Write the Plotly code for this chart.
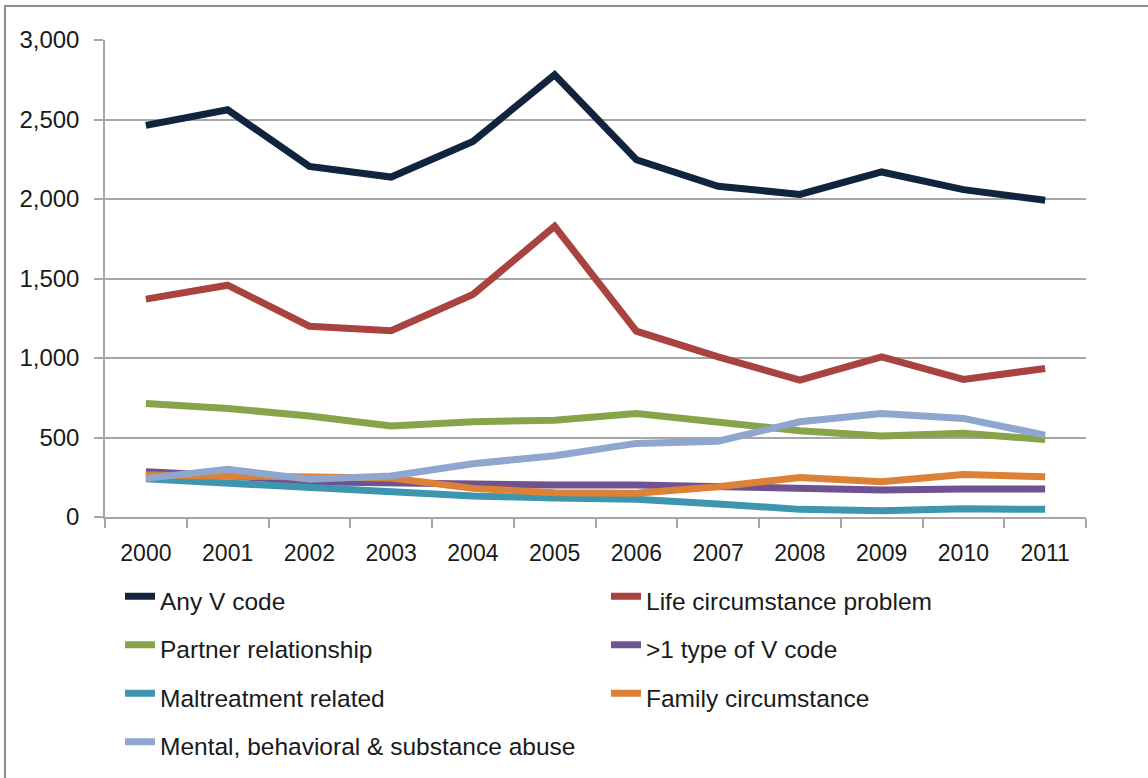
import plotly.graph_objects as go

years = ["2000", "2001", "2002", "2003", "2004", "2005", "2006", "2007", "2008", "2009", "2010", "2011"]

any_v_code = [2463, 2561, 2205, 2138, 2362, 2781, 2247, 2080, 2029, 2170, 2059, 1992]
life_circumstance = [1370, 1458, 1200, 1171, 1399, 1828, 1169, 1007, 861, 1007, 865, 934]
partner_relationship = [714, 683, 635, 572, 599, 609, 651, 592, 542, 509, 526, 488]
more_than_one_type = [285, 260, 222, 212, 201, 201, 201, 190, 187, 170, 176, 176]
maltreatment_related = [240, 212, 180, 153, 132, 120, 112, 82, 48, 40, 52, 48]
family_circumstance = [264, 258, 262, 245, 180, 153, 149, 190, 249, 222, 268, 253]
mental_behavioral = [243, 300, 237, 258, 335, 385, 463, 477, 599, 651, 620, 515]

series_names = [
    "Any V code",
    "Life circumstance problem",
    "Partner relationship",
    ">1 type of V code",
    "Maltreatment related",
    "Family circumstance",
    "Mental, behavioral & substance abuse",
]
series_values = [
    any_v_code,
    life_circumstance,
    partner_relationship,
    more_than_one_type,
    maltreatment_related,
    family_circumstance,
    mental_behavioral,
]
series_colors = ["#10243E", "#A9433F", "#86A44A", "#6F5290", "#3D96AE", "#DC8136", "#8FA6CE"]

FONT = "Liberation Sans, Arial, sans-serif"

fig = go.Figure()
for name, vals, col in zip(series_names, series_values, series_colors):
    fig.add_trace(go.Scatter(
        x=years, y=vals, mode="lines", name=f'<span style="font-size:24.5px">{name}</span>',
        line=dict(color=col, width=7),
    ))

W, H = 1148, 778
ml, mr, mt, mb = 105, 62, 40, 261
pw, ph = W - ml - mr, H - mt - mb

def px_x(p):
    return (p - ml) / pw

def px_y(p):
    return (H - mb - p) / ph

fig.update_layout(
    width=W, height=H,
    margin=dict(l=ml, r=mr, t=mt, b=mb, autoexpand=False),
    paper_bgcolor="white", plot_bgcolor="white",
    font=dict(family=FONT, size=23, color="#1a1a1a"),
    showlegend=True,
    legend=dict(
        orientation="h",
        xref="container", yref="container",
        x=120 / W, y=1 - 567 / H, xanchor="left", yanchor="top",
        entrywidth=441, entrywidthmode="pixels",
        font=dict(family=FONT, size=35, color="#1a1a1a"),
        bgcolor="rgba(0,0,0,0)",
        traceorder="normal",
    ),
    xaxis=dict(
        type="category",
        range=[-0.5, 11.5],
        showgrid=False,
        showline=True, linecolor="#a6a6a6", linewidth=1.5,
        ticks="outside", tickson="boundaries", ticklen=9, tickcolor="#a6a6a6", tickwidth=1.5,
        tickfont=dict(family=FONT, size=23, color="#1a1a1a"),
        ticklabelstandoff=15,
        fixedrange=True,
    ),
    yaxis=dict(
        range=[0, 3000], dtick=500, tickformat=",d",
        showgrid=True, gridcolor="#a6a6a6", gridwidth=1.5,
        showline=True, linecolor="#a6a6a6", linewidth=1.5,
        ticks="outside", ticklen=9, tickcolor="#a6a6a6", tickwidth=1.5,
        tickfont=dict(family=FONT, size=24, color="#1a1a1a"),
        ticklabelstandoff=10,
        zeroline=False,
        fixedrange=True,
    ),
    shapes=[dict(
        type="rect", xref="paper", yref="paper",
        x0=px_x(5), x1=px_x(1160), y0=px_y(790), y1=px_y(6),
        line=dict(color="#8c8c8c", width=2), fillcolor="rgba(0,0,0,0)",
        layer="below",
    )],
)

fig.write_html(
    "out.html",
    config={"displayModeBar": False},
    post_script="document.body.style.margin='0';document.body.style.overflow='hidden';",
)
